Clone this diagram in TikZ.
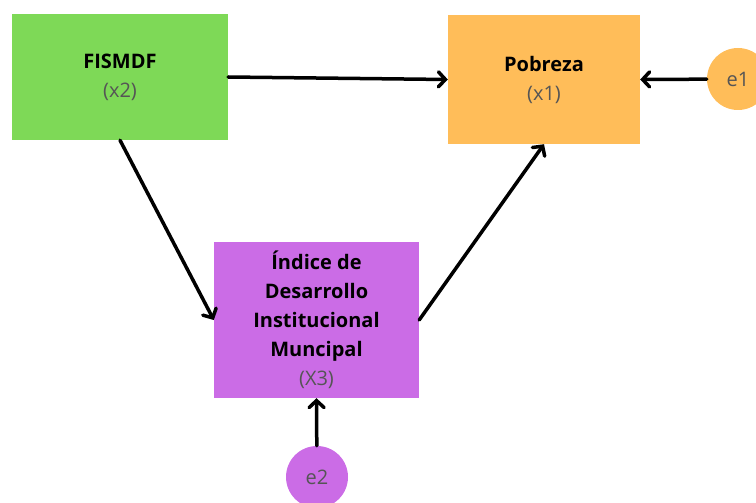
\documentclass[tikz,border=0pt]{standalone}
\usepackage{fontspec}
\setmainfont{Open Sans}
\usepackage{tikz}
\usetikzlibrary{arrows.meta}

\definecolor{verde}{HTML}{7ED957}
\definecolor{naranja}{HTML}{FFBD59}
\definecolor{morado}{HTML}{CB6CE6}
\definecolor{gristxt}{HTML}{555555}

\tikzset{
    caja/.style={draw=none, inner sep=0pt, align=center, font=\fontsize{20}{29}\selectfont},
    error/.style={circle, draw=none, minimum size=62pt, inner sep=0pt, font=\fontsize{20}{22}\selectfont, text=gristxt},
    flecha/.style={-{Straight Barb[length=7pt,width=15pt,line cap=round]}, line width=3.5pt, line cap=round},
}
\newcommand{\sub}[1]{{\color{gristxt}#1}}

\begin{document}
\begin{tikzpicture}[x=1pt, y=-1pt]
    \clip (0,0) rectangle (756,503);
    \useasboundingbox (0,0) rectangle (756,503);

    \node[caja, fill=verde, minimum width=216pt, minimum height=126pt] (fis) at (120,77)
        {\textbf{FISMDF}\\ \sub{(x2)}};
    \node[caja, fill=naranja, minimum width=192pt, minimum height=129pt] (pob) at (544,79.5)
        {\textbf{Pobreza}\\ \sub{(x1)}};
    \node[caja, fill=morado, minimum width=205pt, minimum height=156pt] (idim) at (316.5,320)
        {\textbf{Índice de}\\ \textbf{Desarrollo}\\ \textbf{Institucional}\\ \textbf{Muncipal}\\ \sub{(X3)}};

    % errores
    \node[error, fill=naranja] (e1) at (738,79) {e1};
    \node[error, fill=morado] (e2) at (317,477) {e2};

    \draw[flecha] (fis.east) -- (pob.west);
    \draw[flecha] (fis.south) -- (idim.west);
    \draw[flecha] (idim.east) -- (pob.south);
    \draw[flecha] (e1) -- (pob.east);
    \draw[flecha] (e2) -- (idim.south);
\end{tikzpicture}
\end{document}
